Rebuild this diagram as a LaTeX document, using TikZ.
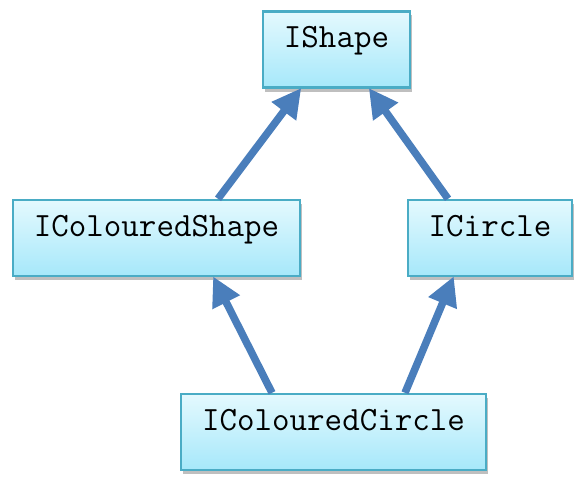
\documentclass[tikz,border=0pt]{standalone}
\usetikzlibrary{arrows.meta,shadows,calc}
\definecolor{boxtop}{HTML}{E4F9FE}
\definecolor{boxbot}{HTML}{A6E8FA}
\definecolor{boxline}{HTML}{4AACC5}
\definecolor{arrowblue}{HTML}{4A7EBB}
\tikzset{
  iface/.style={draw=boxline, line width=2.4pt, top color=boxtop, bottom color=boxbot,
    minimum height=76pt, inner sep=0pt, text height=10pt, text depth=14pt,
    font=\ttfamily\fontsize{34}{35}\selectfont,
    drop shadow={shadow xshift=2pt, shadow yshift=-4pt, opacity=0.25, fill=black}},
  inherit/.style={draw=arrowblue, line width=7.5pt, -{Triangle[length=29pt,width=29pt]}, shorten >=-2pt}
}
\begin{document}
\begin{tikzpicture}[x=1pt,y=-1pt]
\useasboundingbox (0,0) rectangle (586,487);
\node[iface, minimum width=147pt] (shape) at (336.5,49.5) {IShape};
\node[iface, minimum width=287pt] (cshape) at (156.5,238) {IColouredShape};
\node[iface, minimum width=164pt] (circle) at (490,238) {ICircle};
\node[iface, minimum width=305pt] (ccircle) at (333.5,432) {IColouredCircle};
\draw[inherit] ($(cshape.north)+(61.5,0)$) -- ($(shape.south)+(-36.5,1)$);
\draw[inherit] ($(circle.north)+(-42,0)$) -- ($(shape.south)+(33.5,1)$);
\draw[inherit] ($(ccircle.north)+(-61.5,0)$) -- ($(cshape.south)+(57.5,1)$);
\draw[inherit] ($(ccircle.north)+(71.5,0)$) -- ($(circle.south)+(-37,1)$);
\end{tikzpicture}
\end{document}
